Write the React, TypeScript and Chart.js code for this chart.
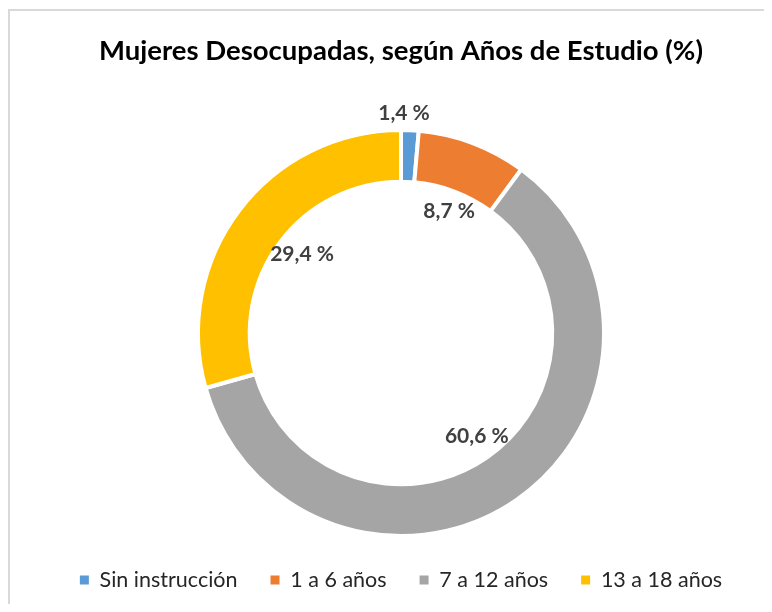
import React, { useEffect, useRef } from "react";
import { Chart, registerables } from "chart.js";

Chart.register(...registerables);

const TITLE = "Mujeres Desocupadas, según Años de Estudio (%)";
const CATEGORIES = ["Sin instrucción", "1 a 6 años", "7 a 12 años", "13 a 18 años"];
const VALUES = [1.4, 8.7, 60.6, 29.4];
const COLORS = ["#5B9BD5", "#ED7D31", "#A5A5A5", "#FFC000"];

const fmt = (v: number) => v.toFixed(1).replace(".", ",") + " %";

const labelPlugin = {
  id: "sliceLabels",
  afterDatasetsDraw(chart: any) {
    const { ctx } = chart;
    const meta = chart.getDatasetMeta(0);
    ctx.save();
    ctx.font = "bold 21px Lato";
    ctx.fillStyle = "#404040";
    ctx.textAlign = "center";
    ctx.textBaseline = "middle";
    meta.data.forEach((arc: any, i: number) => {
      const { x, y, startAngle, endAngle, outerRadius } = arc.getProps(
        ["x", "y", "startAngle", "endAngle", "outerRadius"],
        true
      );
      const v = VALUES[i];
      let ang: number, r: number;
      if (v < 5) {
        ang = startAngle;
        r = outerRadius + 15;
      } else {
        ang = (startAngle + endAngle) / 2;
        r = outerRadius * 0.63;
      }
      ctx.fillText(fmt(v), x + Math.cos(ang) * r + 3, y + Math.sin(ang) * r - 2);
    });
    ctx.restore();
  },
};

export default function App() {
  const ref = useRef<HTMLCanvasElement>(null);
  useEffect(() => {
    document.documentElement.style.overflow = "hidden";
    const baseGen = (Chart as any).overrides.doughnut.plugins.legend.labels.generateLabels;
    const chart = new Chart(ref.current!, {
      type: "doughnut",
      data: {
        labels: CATEGORIES,
        datasets: [
          {
            data: VALUES,
            backgroundColor: COLORS,
            borderColor: "#ffffff",
            borderWidth: 4,
          },
        ],
      },
      options: {
        responsive: false,
        animation: false,
        radius: 203,
        cutout: "74.5%",
        layout: { padding: { left: 20, right: 0, top: 0, bottom: 4.25 } },
        plugins: {
          title: {
            display: true,
            text: TITLE,
            color: "#000000",
            font: { family: "Lato", size: 27.5, weight: "bold", lineHeight: 1.2 },
            padding: { top: 23.5, bottom: 62.25 },
          },
          legend: {
            position: "bottom",
            labels: {
              boxWidth: 9,
              boxHeight: 9,
              padding: 33,
              color: "#262626",
              font: { family: "Lato", size: 21.5 },
              generateLabels: (c: any) =>
                baseGen(c).map((l: any) => ({ ...l, lineWidth: 0, strokeStyle: "transparent" })),
            },
          },
          tooltip: { enabled: false },
        },
      } as any,
      plugins: [labelPlugin],
    });
    return () => chart.destroy();
  }, []);
  return (
    <div
      style={{
        width: 764,
        height: 596,
        boxSizing: "border-box",
        borderTop: "2px solid #d9d9d9",
        borderLeft: "2px solid #d9d9d9",
        overflow: "hidden",
        position: "relative",
        top: 1,
      }}
    >
      <canvas ref={ref} width={762} height={594} style={{ display: "block" }} />
    </div>
  );
}
